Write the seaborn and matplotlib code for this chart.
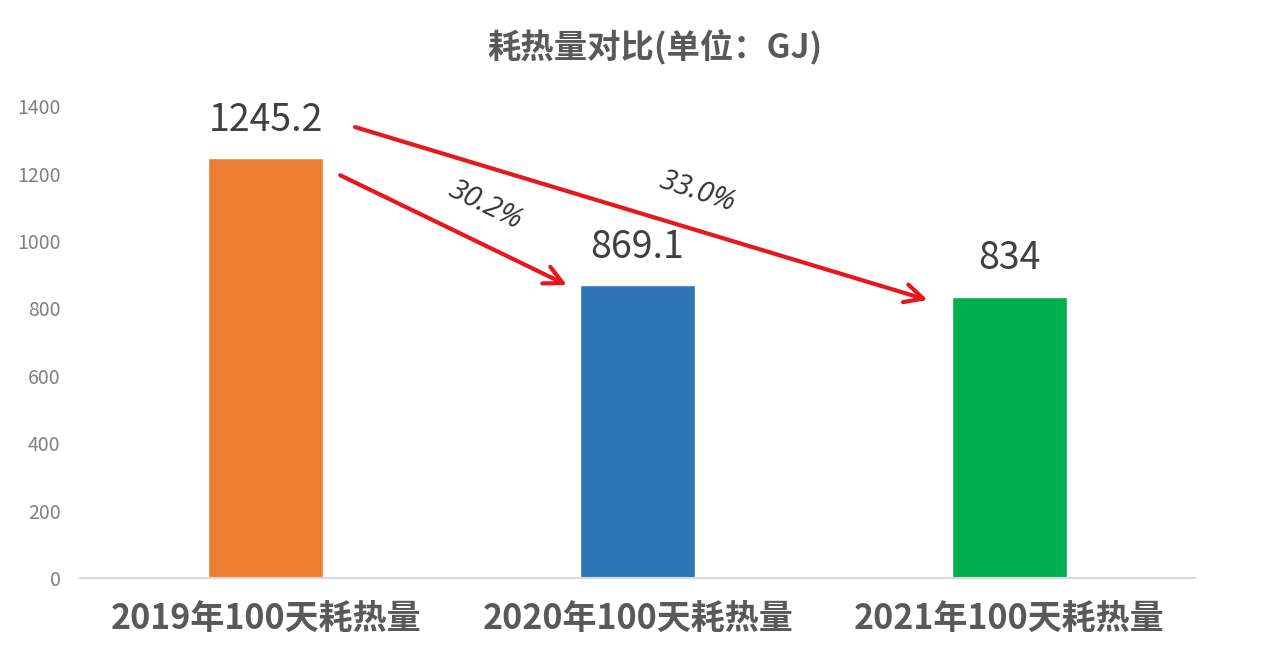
import matplotlib
matplotlib.use('Agg')
import matplotlib.pyplot as plt
import seaborn as sns
import pandas as pd

categories = ['2019年100天耗热量', '2020年100天耗热量', '2021年100天耗热量']
values = [1245.2, 869.1, 834]
value_labels = ['1245.2', '869.1', '834']
colors = ['#ED7D31', '#2E75B6', '#00B050']
yticks = [0, 200, 400, 600, 800, 1000, 1200, 1400]
title = '耗热量对比(单位：GJ)'
pct_labels = ['30.2%', '33.0%']

sns.set_theme(style='white')
plt.rcParams['font.family'] = ['Noto Sans CJK SC', 'DejaVu Sans']

fig = plt.figure(figsize=(12.69, 6.56), dpi=100)
ax = fig.add_axes([0.063, 0.119, 0.879, 0.719])
df = pd.DataFrame({'cat': categories, 'val': values})
sns.barplot(data=df, x='cat', y='val', hue='cat', palette=colors, width=0.31,
            ax=ax, legend=False, saturation=1, dodge=False)

ax.set_xlim(-0.5, 2.5)
ax.set_ylim(0, 1400)
ax.set_yticks(yticks)
ax.set_yticklabels([str(t) for t in yticks], color='#808080', fontsize=14)
ax.set_xlabel('')
ax.set_ylabel('')
for s in ['left', 'top', 'right']:
    ax.spines[s].set_visible(False)
ax.spines['bottom'].set_color('#d9d9d9')
ax.spines['bottom'].set_linewidth(1.5)
ax.tick_params(axis='y', length=0, pad=14)
ax.tick_params(axis='x', length=0, pad=17)
for lab in ax.get_xticklabels():
    lab.set_fontsize(24.5)
    lab.set_fontweight('bold')
    lab.set_color('#595959')

for i, (v, t) in enumerate(zip(values, value_labels)):
    ax.text(i, v + 113, t, ha='center', va='center', fontsize=27, color='#404040')

fig.text(0.516, 1 - 47 / 656, title, ha='center', va='center', fontsize=24,
         fontweight='bold', color='#595959')

red = '#E8161D'
aprops = dict(arrowstyle='->,head_length=1.1,head_width=0.55', lw=3.0, color=red,
              shrinkA=0, shrinkB=0)
# 2019 -> 2020
ax.annotate('', xy=(1 - 0.19, values[1]), xytext=(0 + 0.2, values[0] - 50),
            arrowprops=aprops)
# 2019 -> 2021
ax.annotate('', xy=(2 - 0.22, values[2] - 9), xytext=(0 + 0.24, values[0] + 93),
            arrowprops=aprops)

ax.text(0.59, values[1] + 238, pct_labels[0], ha='center', va='center', fontsize=21,
        rotation=-26, style='italic', family=['Open Sans', 'DejaVu Sans'], color='#333333')
ax.text(1.16, values[2] + 311, pct_labels[1], ha='center', va='center', fontsize=21,
        rotation=-18, style='italic', family=['Open Sans', 'DejaVu Sans'], color='#333333')

fig.savefig('out.png', dpi=100)
